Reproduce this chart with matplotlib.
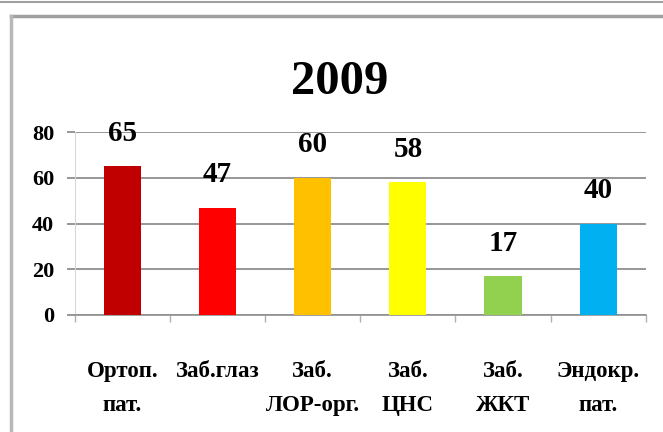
import matplotlib
matplotlib.use("Agg")
import matplotlib.pyplot as plt
from matplotlib.lines import Line2D
import numpy as np

categories = ["Ортоп.\nпат.", "Заб.глаз", "Заб.\nЛОР-орг.", "Заб.\nЦНС", "Заб.\nЖКТ", "Эндокр.\nпат."]
values = [65, 47, 60, 58, 17, 40]
colors = ["#C00000", "#FF0000", "#FFC000", "#FFFF00", "#92D050", "#00B0F0"]
title = "2009"

plt.rcParams['font.family'] = ['Liberation Serif', 'DejaVu Serif']
plt.rcParams['font.weight'] = 'bold'

fig = plt.figure(figsize=(6.63, 4.32), dpi=100)
ax = fig.add_axes([0.113, 0.271, 0.861, 0.423])

x = np.arange(len(values))
ax.bar(x, values, width=0.39, color=colors, zorder=3)
for xi, v in zip(x, values):
    ax.annotate(str(v), (xi, v), xytext=(0, 14), textcoords="offset points",
                ha="center", va="bottom", fontsize=21, fontweight="bold", zorder=4)

ax.set_xlim(-0.5, len(values) - 0.5)
ax.set_ylim(0, 80)
ax.set_yticks([0, 20, 40, 60, 80])
ax.yaxis.grid(True, color="#858585", linewidth=1.2, zorder=0)
ax.tick_params(axis="y", length=6, color="#858585", width=1.2, labelsize=16, pad=9)
for lab in ax.get_yticklabels():
    lab.set_fontweight("bold")

ax.set_xticks(x)
ax.set_xticklabels(categories, fontsize=16.5, fontweight="bold", linespacing=1.8)
ax.tick_params(axis="x", length=0, pad=33)
ax.set_xticks(np.arange(len(values) + 1) - 0.5, minor=True)
ax.tick_params(axis="x", which="minor", length=5, color="#b0b0b0", width=1)

for s in ["top", "right"]:
    ax.spines[s].set_visible(False)
ax.spines["left"].set_color("#d8d8d8")
ax.spines["bottom"].set_color("#909090")
ax.spines["bottom"].set_linewidth(1.2)

fig.text(0.513, 0.81, title, ha="center", va="center", fontsize=35, fontweight="bold")

# outer frame lines
fig.add_artist(Line2D([0, 1], [0.995, 0.995], color="#a0a0a0", linewidth=1.5, transform=fig.transFigure))
fig.add_artist(Line2D([0.017, 1], [0.962, 0.962], color="#a0a0a0", linewidth=2.5, transform=fig.transFigure))
fig.add_artist(Line2D([0.017, 0.017], [0, 0.962], color="#b8b8b8", linewidth=2.5, transform=fig.transFigure))

fig.savefig("out.png", dpi=100)
